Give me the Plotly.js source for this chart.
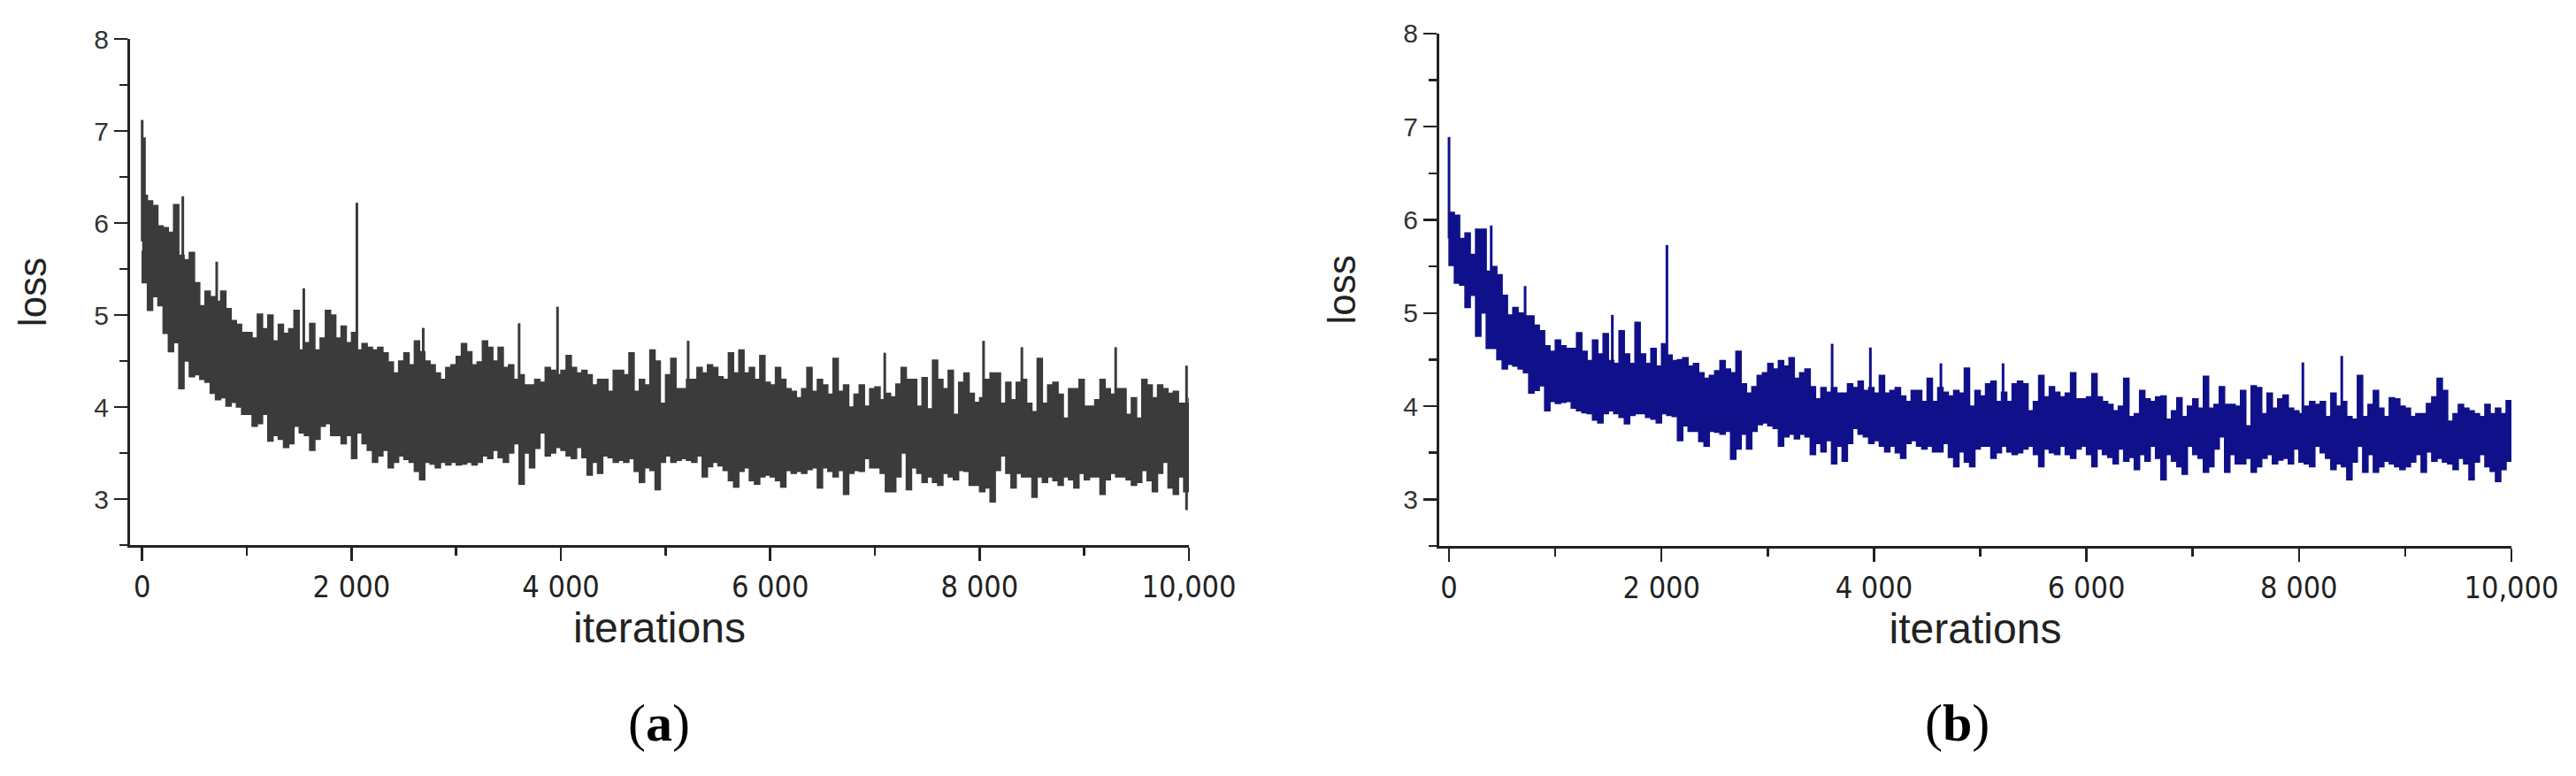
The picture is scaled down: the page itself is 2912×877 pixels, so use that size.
<!DOCTYPE html>
<html>
<head>
<meta charset="utf-8">
<script src="https://cdn.plot.ly/plotly-3.0.1.min.js"></script>
<style>html,body{margin:0;padding:0;background:#fff;}#chart{width:2912px;height:877px;}</style>
</head>
<body>
<div id="chart"></div>
<script>
// Sampling step of the read-off envelope (iterations)
const STEP = 50;

// Panel (a): upper / lower edge of the loss trace, every 50 iterations (0..10000)
const hiA = [
  6.3, 6.24, 6.19, 5.97, 5.95, 5.9, 6.2, 5.65, 5.6, 5.68,
  5.35, 5.1, 5.26, 5.2, 5.15, 5.26, 5.07, 4.94, 4.9, 4.81,
  4.81, 4.75, 5.01, 4.85, 5.0, 4.72, 4.9, 4.8, 4.85, 5.05,
  4.62, 4.7, 4.91, 4.62, 4.75, 5.05, 5.0, 4.75, 4.88, 4.7,
  4.81, 4.62, 4.69, 4.65, 4.62, 4.65, 4.59, 4.49, 4.37, 4.5,
  4.59, 4.46, 4.72, 4.6, 4.5, 4.46, 4.37, 4.3, 4.43, 4.46,
  4.55, 4.69, 4.6, 4.46, 4.49, 4.72, 4.65, 4.5, 4.65, 4.43,
  4.46, 4.3, 4.35, 4.24, 4.24, 4.3, 4.27, 4.43, 4.4, 4.35,
  4.4, 4.56, 4.43, 4.37, 4.4, 4.35, 4.24, 4.3, 4.3, 4.17,
  4.4, 4.4, 4.35, 4.59, 4.17, 4.3, 4.24, 4.62, 4.5, 4.04,
  4.35, 4.53, 4.2, 4.2, 4.3, 4.3, 4.43, 4.37, 4.46, 4.43,
  4.33, 4.3, 4.59, 4.37, 4.62, 4.37, 4.43, 4.3, 4.56, 4.27,
  4.24, 4.43, 4.3, 4.2, 4.17, 4.1, 4.2, 4.43, 4.17, 4.3,
  4.24, 4.14, 4.53, 4.17, 4.24, 4.0, 4.14, 4.24, 4.01, 4.2,
  4.22, 4.08, 4.15, 4.11, 4.25, 4.43, 4.3, 4.3, 4.01, 4.32,
  3.98, 4.51, 4.3, 4.2, 4.4, 3.92, 4.27, 4.37, 4.15, 4.05,
  4.1, 4.3, 4.37, 4.37, 4.04, 4.27, 4.08, 4.27, 4.3, 4.04,
  3.95, 4.53, 4.04, 4.24, 4.27, 4.14, 3.88, 4.2, 4.2, 4.3,
  4.01, 4.01, 4.08, 4.3, 4.2, 4.14, 4.2, 4.2, 3.92, 4.1,
  3.88, 4.3, 4.24, 4.1, 4.24, 4.2, 4.15, 4.17, 4.04, 4.04,
  4.1
];
const loA = [
  5.7, 5.35, 5.05, 5.2, 5.1, 4.8, 4.6, 4.7, 4.2, 4.5,
  4.33, 4.35, 4.3, 4.27, 4.15, 4.08, 4.1, 4.01, 4.05, 4.0,
  3.92, 3.92, 3.79, 3.82, 3.92, 3.63, 3.69, 3.65, 3.56, 3.6,
  3.79, 3.72, 3.69, 3.53, 3.65, 3.79, 3.82, 3.69, 3.69, 3.6,
  3.69, 3.44, 3.72, 3.6, 3.53, 3.4, 3.47, 3.53, 3.34, 3.4,
  3.47, 3.43, 3.4, 3.3, 3.21, 3.4, 3.38, 3.34, 3.4, 3.37,
  3.4, 3.37, 3.38, 3.4, 3.37, 3.4, 3.47, 3.44, 3.53, 3.45,
  3.4, 3.5, 3.6, 3.16, 3.5, 3.34, 3.55, 3.72, 3.47, 3.5,
  3.56, 3.53, 3.47, 3.44, 3.56, 3.45, 3.26, 3.4, 3.28, 3.47,
  3.45, 3.4, 3.42, 3.4, 3.44, 3.3, 3.18, 3.34, 3.31, 3.1,
  3.4, 3.47, 3.4, 3.42, 3.44, 3.42, 3.4, 3.47, 3.24, 3.35,
  3.4, 3.36, 3.31, 3.2, 3.13, 3.3, 3.34, 3.2, 3.16, 3.24,
  3.26, 3.24, 3.2, 3.13, 3.31, 3.28, 3.3, 3.28, 3.32, 3.34,
  3.12, 3.34, 3.3, 3.24, 3.31, 3.05, 3.28, 3.31, 3.3, 3.44,
  3.34, 3.34, 3.28, 3.08, 3.08, 3.24, 3.5, 3.1, 3.34, 3.28,
  3.18, 3.24, 3.18, 3.15, 3.28, 3.24, 3.21, 3.31, 3.3, 3.15,
  3.15, 3.08, 3.12, 2.97, 3.31, 3.47, 3.28, 3.12, 3.28, 3.24,
  3.24, 3.02, 3.24, 3.18, 3.24, 3.2, 3.15, 3.24, 3.21, 3.12,
  3.28, 3.21, 3.24, 3.24, 3.05, 3.21, 3.28, 3.24, 3.24, 3.21,
  3.15, 3.18, 3.31, 3.2, 3.08, 3.28, 3.4, 3.12, 3.05, 3.24,
  3.08
];
// Panel (a): isolated tall spikes (iteration, peak, foot)
const spkItA = [0, 22, 388, 712, 1544, 2051, 2685, 3601, 3968, 5216, 7094, 8038, 8404, 9300, 9977];
const spkHiA = [7.12, 6.93, 6.29, 5.58, 5.29, 6.22, 4.86, 4.91, 5.09, 4.72, 4.59, 4.72, 4.65, 4.65, 4.45];
const spkLoA = [5.8, 5.7, 5.0, 4.6, 4.2, 4.0, 3.8, 3.8, 3.8, 3.7, 3.6, 3.6, 3.6, 3.6, 2.88];

// Panel (b)
const hiB = [
  6.08, 6.05, 5.8, 5.86, 5.63, 5.9, 5.9, 5.45, 5.5, 5.41,
  5.19, 4.98, 5.06, 5.0, 4.97, 4.97, 4.87, 4.81, 4.65, 4.59,
  4.71, 4.65, 4.62, 4.62, 4.79, 4.59, 4.49, 4.71, 4.56, 4.78,
  4.49, 4.46, 4.81, 4.56, 4.46, 4.9, 4.56, 4.46, 4.62, 4.43,
  4.67, 4.55, 4.49, 4.5, 4.52, 4.43, 4.46, 4.36, 4.3, 4.33,
  4.38, 4.49, 4.4, 4.36, 4.59, 4.24, 4.14, 4.21, 4.33, 4.36,
  4.46, 4.4, 4.49, 4.43, 4.52, 4.3, 4.36, 4.4, 4.21, 4.08,
  4.2, 4.15, 4.2, 4.14, 4.14, 4.24, 4.2, 4.27, 4.17, 4.2,
  4.14, 4.33, 4.14, 4.17, 4.2, 4.11, 4.05, 4.17, 4.17, 4.05,
  4.3, 4.05, 4.2, 4.15, 4.11, 4.17, 4.14, 4.41, 4.0, 4.17,
  4.11, 4.24, 4.27, 4.05, 4.15, 4.05, 4.24, 4.27, 4.24, 3.95,
  4.05, 4.33, 4.1, 4.21, 4.15, 4.1, 4.14, 4.36, 4.08, 4.08,
  4.1, 4.35, 4.1, 4.05, 4.02, 3.95, 4.0, 4.3, 3.89, 3.92,
  4.17, 4.08, 4.05, 4.1, 4.11, 3.86, 3.95, 4.09, 3.89, 4.0,
  4.08, 3.98, 4.32, 3.98, 4.02, 4.21, 4.02, 4.02, 4.0, 4.17,
  3.79, 4.22, 4.2, 3.92, 4.14, 3.98, 4.08, 4.12, 3.98, 3.95,
  3.92, 4.0, 4.05, 4.02, 4.05, 3.89, 4.14, 4.0, 4.05, 3.89,
  3.86, 4.33, 3.89, 4.02, 4.17, 3.98, 3.89, 4.09, 4.08, 4.0,
  3.98, 3.89, 3.92, 3.92, 4.03, 4.1, 4.3, 4.17, 3.84, 3.92,
  4.02, 3.98, 3.95, 3.92, 3.89, 4.02, 3.92, 3.98, 3.92, 4.06,
  3.86
];
const loB = [
  5.8, 5.51, 5.32, 5.3, 5.06, 5.19, 4.75, 5.0, 4.62, 4.62,
  4.5, 4.4, 4.45, 4.43, 4.4, 4.36, 4.14, 4.17, 4.22, 3.95,
  4.05, 4.03, 4.04, 4.05, 3.98, 3.95, 3.93, 3.92, 3.85, 3.82,
  3.92, 3.95, 3.92, 3.88, 3.81, 3.9, 3.92, 3.92, 3.88, 3.86,
  3.82, 3.92, 3.9, 3.89, 3.63, 3.79, 3.73, 3.73, 3.62, 3.57,
  3.73, 3.72, 3.7, 3.73, 3.43, 3.54, 3.7, 3.54, 3.73, 3.8,
  3.82, 3.79, 3.76, 3.57, 3.67, 3.7, 3.65, 3.7, 3.67, 3.48,
  3.6, 3.51, 3.63, 3.38, 3.57, 3.41, 3.6, 3.76, 3.7, 3.67,
  3.6, 3.63, 3.57, 3.51, 3.57, 3.5, 3.44, 3.6, 3.63, 3.57,
  3.54, 3.57, 3.51, 3.51, 3.6, 3.45, 3.35, 3.51, 3.4, 3.35,
  3.54, 3.57, 3.57, 3.44, 3.5, 3.57, 3.51, 3.48, 3.5, 3.54,
  3.57, 3.48, 3.35, 3.54, 3.5, 3.48, 3.57, 3.48, 3.44, 3.54,
  3.57, 3.48, 3.35, 3.54, 3.48, 3.45, 3.38, 3.54, 3.41, 3.45,
  3.32, 3.48, 3.41, 3.57, 3.44, 3.21, 3.48, 3.41, 3.35, 3.27,
  3.57, 3.48, 3.44, 3.29, 3.35, 3.54, 3.67, 3.29, 3.48, 3.38,
  3.38, 3.44, 3.29, 3.35, 3.44, 3.48, 3.38, 3.42, 3.44, 3.38,
  3.54, 3.4, 3.38, 3.35, 3.57, 3.5, 3.44, 3.32, 3.38, 3.35,
  3.21, 3.4, 3.57, 3.29, 3.48, 3.29, 3.35, 3.41, 3.38, 3.35,
  3.32, 3.35, 3.4, 3.48, 3.29, 3.51, 3.41, 3.44, 3.4, 3.38,
  3.32, 3.44, 3.38, 3.21, 3.4, 3.48, 3.35, 3.3, 3.19, 3.32,
  3.41
];
const spkItB = [0, 397, 716, 1537, 2051, 3606, 3966, 4630, 5215, 8037, 8403];
const spkHiB = [6.89, 5.94, 5.29, 4.98, 5.73, 4.67, 4.63, 4.46, 4.46, 4.47, 4.54];
const spkLoB = [5.8, 5.2, 4.6, 4.1, 4.0, 3.8, 3.8, 3.7, 3.7, 3.6, 3.6];

// Axis ticks
const yTicks = [3, 4, 5, 6, 7, 8];
const xTickVals = [0, 2000, 4000, 6000, 8000, 10000];
const xTickText = ['0', '2 000', '4 000', '6 000', '8 000', '10,000'];

const COLOR_A = '#3b3b3b';
const COLOR_B = '#10108a';

const grid = hiA.map((_, i) => i * STEP);

function band(hi, lo, color, xa, ya) {
  const xs = grid.concat(grid.slice().reverse());
  const ys = hi.concat(lo.slice().reverse());
  return {x: xs, y: ys, xaxis: xa, yaxis: ya, type: 'scatter', mode: 'lines',
    fill: 'toself', fillcolor: color, line: {color: color, width: 1.5, shape: 'hv'},
    hoverinfo: 'skip', showlegend: false};
}
function spikes(it, hi, lo, color, xa, ya) {
  const xs = [], ys = [];
  it.forEach((v, i) => { xs.push(v, v, null); ys.push(lo[i], hi[i], null); });
  return {x: xs, y: ys, xaxis: xa, yaxis: ya, type: 'scatter', mode: 'lines',
    line: {color: color, width: 3}, hoverinfo: 'skip', showlegend: false};
}

const data = [
  band(hiA, loA, COLOR_A, 'x', 'y'),
  spikes(spkItA, spkHiA, spkLoA, COLOR_A, 'x', 'y'),
  band(hiB, loB, COLOR_B, 'x2', 'y2'),
  spikes(spkItB, spkHiB, spkLoB, COLOR_B, 'x2', 'y2')
];

const AX = '#222';
const tickFontY = {family: 'Liberation Sans, Arial, sans-serif', size: 30, color: '#333'};
const tickFontX = {family: 'Liberation Sans Narrow, DejaVu Sans Condensed, Liberation Sans, Arial, sans-serif', size: 34, color: '#222'};

function xAxis(domain, r, anchor) {
  return {domain: domain, range: r, anchor: anchor, showgrid: false, zeroline: false,
    showline: true, linecolor: AX, linewidth: 3,
    ticks: 'outside', ticklen: 15, tickwidth: 2.5, tickcolor: AX,
    tickmode: 'array', tickvals: xTickVals, ticktext: xTickText, tickfont: tickFontX,
    minor: {tickmode: 'linear', tick0: 0, dtick: 1000, ticks: 'outside', ticklen: 9, tickwidth: 2.5, tickcolor: AX},
    title: {text: 'iterations', font: {family: 'Liberation Sans, Arial, sans-serif', size: 48, color: '#222'}, standoff: 4}};
}
function yAxis(domain, anchor) {
  return {domain: domain, range: [2.5, 8], anchor: anchor, showgrid: false, zeroline: false,
    showline: true, linecolor: AX, linewidth: 3,
    ticks: 'outside', ticklen: 15, tickwidth: 2.5, tickcolor: AX,
    tickmode: 'array', tickvals: yTicks, ticktext: yTicks.map(String), tickfont: tickFontY,
    minor: {tickmode: 'linear', tick0: 2.5, dtick: 0.5, ticks: 'outside', ticklen: 9, tickwidth: 2.5, tickcolor: AX},
    title: {text: 'loss', font: {family: 'Liberation Sans, Arial, sans-serif', size: 44, color: '#222'}, standoff: 40}};
}

const layout = {
  width: 2912, height: 877,
  margin: {l: 0, r: 0, t: 0, b: 0},
  paper_bgcolor: '#fff', plot_bgcolor: '#fff',
  showlegend: false,
  xaxis: xAxis([0.05048, 0.46154], [-116, 10000], 'y'),
  yaxis: yAxis([0.2976, 0.9498], 'x'),
  xaxis2: xAxis([0.55872, 0.97493], [-92, 10000], 'y2'),
  yaxis2: yAxis([0.2965, 0.9567], 'x2'),
  annotations: [
    {text: '(<b>a</b>)', xref: 'paper', yref: 'paper', x: 745 / 2912, y: 1 - 817 / 877,
     xanchor: 'center', yanchor: 'middle', showarrow: false,
     font: {family: 'Liberation Serif, Times New Roman, serif', size: 60, color: '#000'}},
    {text: '(<b>b</b>)', xref: 'paper', yref: 'paper', x: 2212 / 2912, y: 1 - 817 / 877,
     xanchor: 'center', yanchor: 'middle', showarrow: false,
     font: {family: 'Liberation Serif, Times New Roman, serif', size: 60, color: '#000'}}
  ]
};

Plotly.newPlot('chart', data, layout, {staticPlot: true, displayModeBar: false});
</script>
</body>
</html>
